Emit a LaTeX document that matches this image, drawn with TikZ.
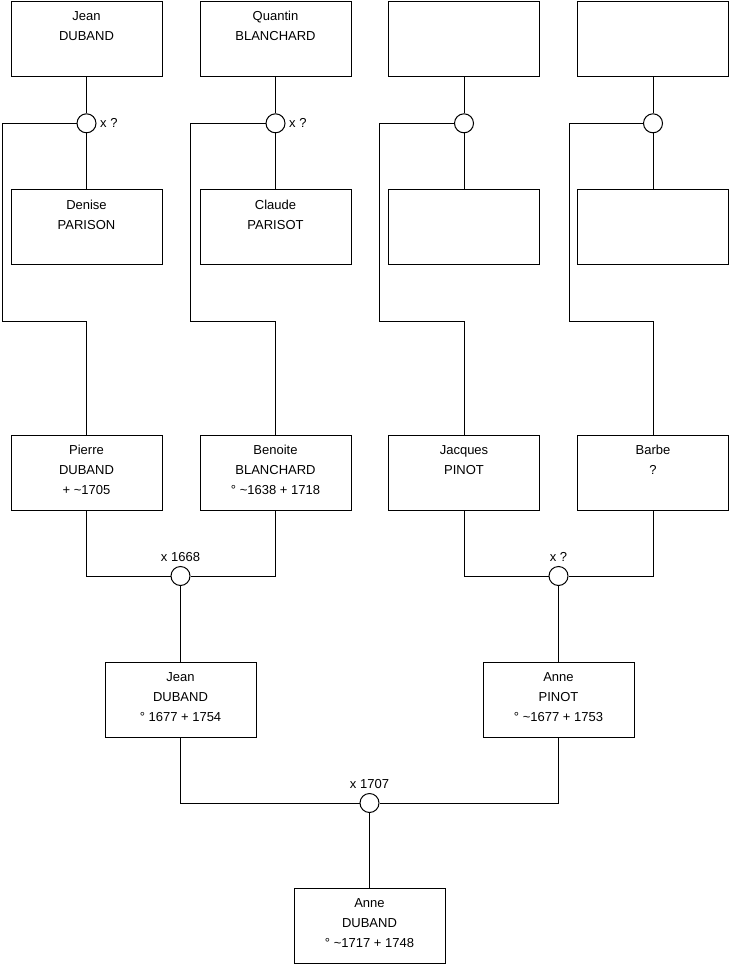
\documentclass[tikz,border=0pt]{standalone}
\usepackage{fontspec}
\setmainfont{Liberation Sans}
\begin{document}
\begin{tikzpicture}[x=1pt,y=-1pt,
 pbox/.style={draw, line width=1pt, minimum width=151pt, minimum height=75pt, inner sep=0pt},
 ptext/.style={anchor=north, align=center, inner sep=0pt, font=\fontsize{13}{20}\selectfont},
 mcirc/.style={draw, circle, line width=1pt, minimum size=19pt, inner sep=0pt, fill=white},
 mlabel/.style={inner sep=0pt, font=\fontsize{13}{16}\selectfont},
 link/.style={line width=1pt}]
\useasboundingbox (0,0) rectangle (740,975);

% top row
\node[pbox] (a1) at (86.5,38.5) {};
\node[pbox] (b1) at (275.5,38.5) {};
\node[pbox] (c1) at (464,38.5) {};
\node[pbox] (d1) at (653,38.5) {};
% marriage circles top
\node[mcirc] (ca) at (86.5,123.3) {};
\node[mcirc] (cb) at (275.5,123.3) {};
\node[mcirc] (cc) at (464,123.3) {};
\node[mcirc] (cd) at (653,123.3) {};
% second row
\node[pbox] (a2) at (86.5,227.3) {};
\node[pbox] (b2) at (275.5,227.3) {};
\node[pbox] (c2) at (464,227.3) {};
\node[pbox] (d2) at (653,227.3) {};
% third row
\node[pbox] (pi) at (86.5,472.7) {};
\node[pbox] (bn) at (275.5,472.7) {};
\node[pbox] (jq) at (464,472.7) {};
\node[pbox] (bb) at (653,472.7) {};
% marriages
\node[mcirc] (m1) at (180.5,576) {};
\node[mcirc] (m2) at (558.5,576) {};
\node[pbox] (jean) at (180.5,699.5) {};
\node[pbox] (anp) at (558.5,699.5) {};
\node[mcirc] (m3) at (369.5,803) {};
\node[pbox] (annd) at (369.5,925.5) {};

% texts
\node[ptext] (ta1) at ([yshift=-5.5pt]a1.north) {\strut Jean\\DUBAND};
\node[ptext] (tb1) at ([yshift=-5.5pt]b1.north) {\strut Quantin\\BLANCHARD};
\node[ptext] (ta2) at ([yshift=-5.5pt]a2.north) {\strut Denise\\PARISON};
\node[ptext] (tb2) at ([yshift=-5.5pt]b2.north) {\strut Claude\\PARISOT};
\node[ptext] (tpi) at ([yshift=-5.5pt]pi.north) {\strut Pierre\\DUBAND\\+ \textasciitilde1705};
\node[ptext] (tbn) at ([yshift=-5.5pt]bn.north) {\strut Benoite\\BLANCHARD\\° \textasciitilde1638 + 1718};
\node[ptext] (tjq) at ([yshift=-5.5pt]jq.north) {\strut Jacques\\PINOT};
\node[ptext] (tbb) at ([yshift=-5.5pt]bb.north) {\strut Barbe\\?};
\node[ptext] (tjean) at ([yshift=-5.5pt]jean.north) {\strut Jean\\DUBAND\\° 1677 + 1754};
\node[ptext] (tanp) at ([yshift=-5.5pt]anp.north) {\strut Anne\\PINOT\\° \textasciitilde1677 + 1753};
\node[ptext] (tannd) at ([yshift=-5.5pt]annd.north) {\strut Anne\\DUBAND\\° \textasciitilde1717 + 1748};

% marriage labels
\node[mlabel, anchor=west] (la) at ([xshift=3.5pt]ca.east) {x ?};
\node[mlabel, anchor=west] (lb) at ([xshift=3.5pt]cb.east) {x ?};
\node[mlabel, anchor=south] (l1) at ([yshift=4pt]m1.north) {x 1668};
\node[mlabel, anchor=south] (l2) at ([yshift=4pt]m2.north) {x ?};
\node[mlabel, anchor=south] (l3) at ([yshift=4pt]m3.north) {x 1707};

% corner coordinates
\coordinate (ka) at (2.3,321);
\coordinate (kb) at (190.7,321);
\coordinate (kc) at (379,321);
\coordinate (kd) at (569,321);

% connectors
\draw[link] (a1.south) -- (ca.north);
\draw[link] (ca.south) -- (a2.north);
\draw[link] (b1.south) -- (cb.north);
\draw[link] (cb.south) -- (b2.north);
\draw[link] (c1.south) -- (cc.north);
\draw[link] (cc.south) -- (c2.north);
\draw[link] (d1.south) -- (cd.north);
\draw[link] (cd.south) -- (d2.north);

\draw[link] (ca.west) -| (ka) -| (pi.north);
\draw[link] (cb.west) -| (kb) -| (bn.north);
\draw[link] (cc.west) -| (kc) -| (jq.north);
\draw[link] (cd.west) -| (kd) -| (bb.north);

\draw[link] (pi.south) |- (m1.west);
\draw[link] (bn.south) |- (m1.east);
\draw[link] (m1.south) -- (jean.north);
\draw[link] (jq.south) |- (m2.west);
\draw[link] (bb.south) |- (m2.east);
\draw[link] (m2.south) -- (anp.north);
\draw[link] (jean.south) |- (m3.west);
\draw[link] (anp.south) |- (m3.east);
\draw[link] (m3.south) -- (annd.north);
\end{tikzpicture}
\end{document}
